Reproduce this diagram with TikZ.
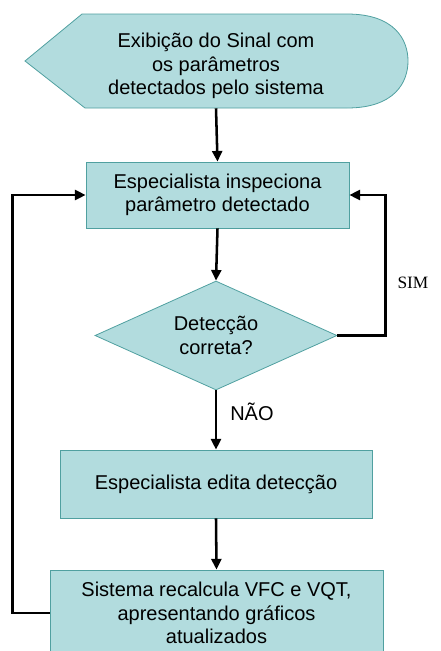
\documentclass[tikz,border=0pt]{standalone}
\usepackage{fontspec}
\setmainfont{Liberation Sans}
\newfontfamily\simfont{Liberation Serif}
\usetikzlibrary{shapes.geometric, arrows.meta}

\definecolor{caixa}{RGB}{178,220,222}
\definecolor{borda}{RGB}{80,160,160}
\tikzset{
  texto/.style={align=center, font=\fontsize{15}{17.5}\selectfont},
  etapa/.style={texto, draw=borda, fill=caixa, line width=0.6pt, inner sep=0pt},
  decisao/.style={etapa, diamond, aspect=2.2},
  fluxo/.style={line width=1.9pt, ->},
}

\begin{document}
\begin{tikzpicture}[x=0.75pt, y=-0.75pt, >={Triangle[length=8pt, width=7.5pt]}]
  \clip (0,0) rectangle (441,651);

  % Display shape
  \draw[borda, fill=caixa, line width=0.6pt] (25,61) -- (82,14) -- (347,14)
    .. controls (395,14) and (408,40) .. (408,61)
    .. controls (408,82) and (395,108) .. (347,108) -- (85,108) -- cycle;
  \node[texto, minimum height=63pt] (exib) at (216,66)
    {Exibição do Sinal com\\os parâmetros\\detectados pelo sistema};

  % Steps
  \node[etapa, minimum width=197.25pt, minimum height=49.5pt] (insp) at (217.5,195)
    {Especialista inspeciona\\parâmetro detectado};
  \node[decisao, minimum width=181.5pt, minimum height=81.75pt] (dec) at (216,335.5)
    {Detecção\\correta?};
  \node[etapa, minimum width=234pt, minimum height=51pt] (edita) at (216,484)
    {Especialista edita detecção};
  \node[etapa, minimum width=249.75pt, minimum height=64.5pt] (recalc) at (216.5,613)
    {Sistema recalcula VFC e VQT,\\apresentando gráficos\\atualizados};

  % Arrows
  \draw[fluxo] (exib.south) -- (insp.north);
  \draw[fluxo] (insp.south) -- (dec.north);
  \draw[fluxo] (dec.south) -- node[texto, pos=0.37, anchor=west, inner sep=0pt, xshift=9.75pt] (nao) {NÃO} (edita.north);
  \draw[fluxo] (edita.south) -- (recalc.north);

  % Loops
  \draw[fluxo] (dec.east) -- ++(48,0) |- (insp.east);
  \node[font=\simfont\fontsize{13}{15}\selectfont] (sim) at (413,283) {SIM};
  \draw[fluxo] (recalc.west) -- ++(-37,0) |- (insp.west);
\end{tikzpicture}
\end{document}
